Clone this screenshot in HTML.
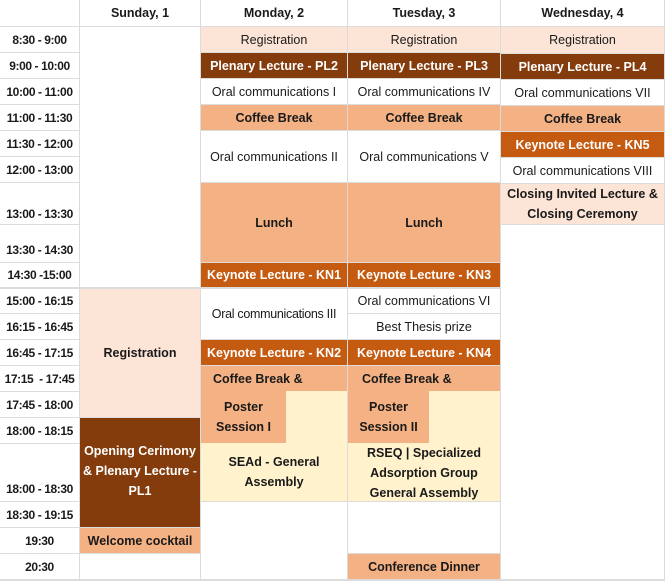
<!DOCTYPE html>
<html><head><meta charset="utf-8"><style>
body{margin:0;width:665px;height:581px;overflow:hidden;background:#fff;}
#g{position:relative;width:665px;height:581px;background:#dcdcdc;font-family:"Liberation Sans",sans-serif;font-size:12.5px;color:#1a1a1a;}
.c{position:absolute;display:flex;align-items:center;justify-content:center;text-align:center;background:#fff;line-height:20px;box-sizing:border-box;white-space:nowrap;overflow:hidden;}
.t{font-weight:bold;align-items:flex-end;padding-bottom:2px;letter-spacing:-0.4px;font-size:12px;}
.b{font-weight:bold;}
.lp{background:#fce4d6;}
.br{background:#843c0c;color:#fff;font-weight:bold;}
.or{background:#c55a11;color:#fff;font-weight:bold;}
.pe{background:#f4b183;font-weight:bold;}
.ye{background:#fff2cc;font-weight:bold;}
</style></head><body><div id="g">
<div class="c" style="left:0;top:0;width:79px;height:26px"></div>
<div class="c b" style="left:80px;top:0;width:120px;height:26px">Sunday, 1</div>
<div class="c b" style="left:201px;top:0;width:146px;height:26px">Monday, 2</div>
<div class="c b" style="left:348px;top:0;width:152px;height:26px">Tuesday, 3</div>
<div class="c b" style="left:501px;top:0;width:163px;height:26px">Wednesday, 4</div>
<div class="c t" style="left:0;top:27px;width:79px;height:25px">8:30 - 9:00</div>
<div class="c t" style="left:0;top:53px;width:79px;height:25px">9:00 - 10:00</div>
<div class="c t" style="left:0;top:79px;width:79px;height:25px">10:00 - 11:00</div>
<div class="c t" style="left:0;top:105px;width:79px;height:25px">11:00 - 11:30</div>
<div class="c t" style="left:0;top:131px;width:79px;height:25px">11:30 - 12:00</div>
<div class="c t" style="left:0;top:157px;width:79px;height:25px">12:00 - 13:00</div>
<div class="c t" style="left:0;top:183px;width:79px;height:41px;padding-bottom:0">13:00 - 13:30</div>
<div class="c t" style="left:0;top:225px;width:79px;height:37px">13:30 - 14:30</div>
<div class="c t" style="left:0;top:263px;width:79px;height:24px">14:30 -15:00</div>
<div class="c t" style="left:0;top:289px;width:79px;height:24px">15:00 - 16:15</div>
<div class="c t" style="left:0;top:314px;width:79px;height:25px">16:15 - 16:45</div>
<div class="c t" style="left:0;top:340px;width:79px;height:25px">16:45 - 17:15</div>
<div class="c t" style="left:0;top:366px;width:79px;height:25px">17:15 &nbsp;- 17:45</div>
<div class="c t" style="left:0;top:392px;width:79px;height:25px">17:45 - 18:00</div>
<div class="c t" style="left:0;top:418px;width:79px;height:25px">18:00 - 18:15</div>
<div class="c t" style="left:0;top:444px;width:79px;height:57px">18:00 - 18:30</div>
<div class="c t" style="left:0;top:502px;width:79px;height:25px">18:30 - 19:15</div>
<div class="c t" style="left:0;top:528px;width:79px;height:25px">19:30</div>
<div class="c t" style="left:0;top:554px;width:79px;height:25px">20:30</div>
<div class="c" style="left:80px;top:27px;width:120px;height:260px"></div>
<div class="c lp b" style="left:80px;top:289px;width:120px;height:128px">Registration</div>
<div class="c br" style="left:80px;top:418px;width:120px;height:109px;line-height:20px;padding-bottom:4px;justify-content:flex-start"><div style="width:120px;text-align:center;margin-left:0">Opening Cerimony<br>&amp; Plenary Lecture -<br>PL1</div></div>
<div class="c pe" style="left:80px;top:528px;width:120px;height:25px">Welcome cocktail</div>
<div class="c" style="left:80px;top:554px;width:120px;height:25px"></div>
<div class="c lp" style="left:201px;top:27px;width:146px;height:25px">Registration</div>
<div class="c br" style="left:201px;top:53px;width:146px;height:25px">Plenary Lecture - PL2</div>
<div class="c" style="left:201px;top:79px;width:146px;height:25px">Oral communications I</div>
<div class="c pe" style="left:201px;top:105px;width:146px;height:25px">Coffee Break</div>
<div class="c" style="left:201px;top:131px;width:146px;height:51px">Oral communications II</div>
<div class="c pe" style="left:201px;top:183px;width:146px;height:79px">Lunch</div>
<div class="c or" style="left:201px;top:263px;width:146px;height:24px">Keynote Lecture - KN1</div>
<div class="c" style="left:201px;top:289px;width:146px;height:50px;letter-spacing:-0.3px">Oral communications III</div>
<div class="c or" style="left:201px;top:340px;width:146px;height:25px">Keynote Lecture - KN2</div>
<div class="c pe" style="left:201px;top:366px;width:146px;height:25px;justify-content:flex-start;padding-left:12px">Coffee Break &amp;</div>
<div class="c pe" style="left:201px;top:391px;width:85px;height:52px;line-height:20px">Poster<br>Session I</div>
<div class="c ye" style="left:286px;top:391px;width:61px;height:52px"></div>
<div class="c ye" style="left:201px;top:443px;width:146px;height:58px;line-height:20px">SEAd - General<br>Assembly</div>
<div class="c" style="left:201px;top:502px;width:146px;height:77px"></div>
<div class="c lp" style="left:348px;top:27px;width:152px;height:25px">Registration</div>
<div class="c br" style="left:348px;top:53px;width:152px;height:25px">Plenary Lecture - PL3</div>
<div class="c" style="left:348px;top:79px;width:152px;height:25px">Oral communications IV</div>
<div class="c pe" style="left:348px;top:105px;width:152px;height:25px">Coffee Break</div>
<div class="c" style="left:348px;top:131px;width:152px;height:51px">Oral communications V</div>
<div class="c pe" style="left:348px;top:183px;width:152px;height:79px">Lunch</div>
<div class="c or" style="left:348px;top:263px;width:152px;height:24px">Keynote Lecture - KN3</div>
<div class="c" style="left:348px;top:289px;width:152px;height:24px">Oral communications VI</div>
<div class="c" style="left:348px;top:314px;width:152px;height:25px">Best Thesis prize</div>
<div class="c or" style="left:348px;top:340px;width:152px;height:25px">Keynote Lecture - KN4</div>
<div class="c pe" style="left:348px;top:366px;width:152px;height:25px;justify-content:flex-start;padding-left:14px">Coffee Break &amp;</div>
<div class="c pe" style="left:348px;top:391px;width:81px;height:52px;line-height:20px">Poster<br>Session II</div>
<div class="c ye" style="left:429px;top:391px;width:71px;height:52px"></div>
<div class="c ye" style="left:348px;top:443px;width:152px;height:58px;line-height:20px;padding-top:2px">RSEQ | Specialized<br>Adsorption Group<br>General Assembly</div>
<div class="c" style="left:348px;top:502px;width:152px;height:51px"></div>
<div class="c pe" style="left:348px;top:554px;width:152px;height:25px">Conference Dinner</div>
<div class="c lp" style="left:501px;top:27px;width:163px;height:26px">Registration</div>
<div class="c br" style="left:501px;top:54px;width:163px;height:25px">Plenary Lecture - PL4</div>
<div class="c" style="left:501px;top:80px;width:163px;height:25px">Oral communications VII</div>
<div class="c pe" style="left:501px;top:106px;width:163px;height:25px">Coffee Break</div>
<div class="c or" style="left:501px;top:132px;width:163px;height:25px">Keynote Lecture - KN5</div>
<div class="c" style="left:501px;top:158px;width:163px;height:25px">Oral communications VIII</div>
<div class="c lp b" style="left:501px;top:184px;width:163px;height:40px;line-height:20px">Closing Invited Lecture &amp;<br>Closing Ceremony</div>
<div class="c" style="left:501px;top:225px;width:163px;height:354px"></div>
</div></body></html>
